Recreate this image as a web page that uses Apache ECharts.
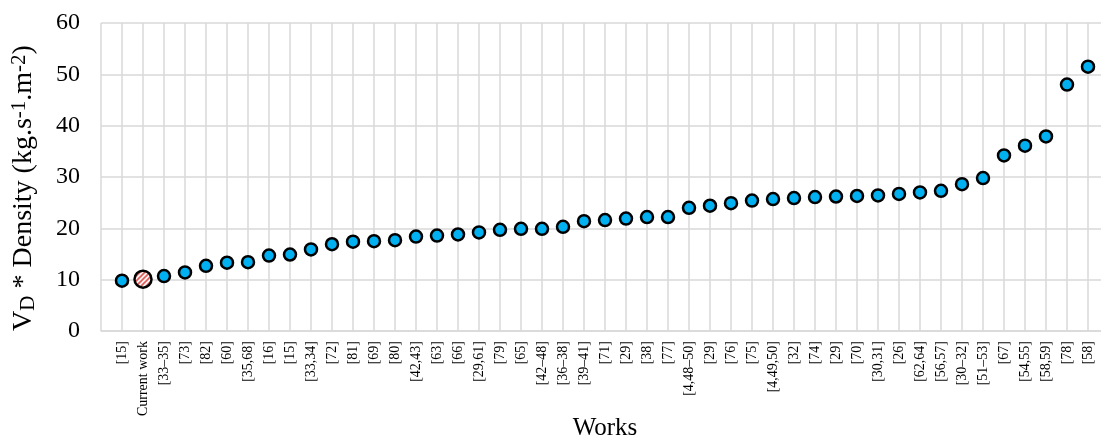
<!DOCTYPE html>
<html lang="en">
  <head>
    <meta charset="UTF-8" />
    <title>VD * Density</title>
    <script src="https://cdn.jsdelivr.net/npm/echarts@6/dist/echarts.min.js"></script>
    <style>
      html, body { margin: 0; padding: 0; background: #fff; }
    </style>
  </head>
  <body>
    <div id="main" style="width: 1101px; height: 442px"></div>

    <script>
      // 文献编号（横轴）
      const works = [
        '[15]', 'Current work', '[33–35]', '[73]', '[82]', '[60]', '[35,68]', '[16]', '[15]', '[33,34]',
        '[72]', '[81]', '[69]', '[80]', '[42,43]', '[63]', '[66]', '[29,61]', '[79]', '[65]',
        '[42–48]', '[36–38]', '[39–41]', '[71]', '[29]', '[38]', '[77]', '[4,48–50]', '[29]', '[76]',
        '[75]', '[4,49,50]', '[32]', '[74]', '[29]', '[70]', '[30,31]', '[26]', '[62,64]', '[56,57]',
        '[30–32]', '[51–53]', '[67]', '[54,55]', '[58,59]', '[78]', '[58]',
      ]
      // VD * Density 数值
      const values = [
        9.8, 10.1, 10.7, 11.4, 12.7, 13.3, 13.4, 14.7, 14.9, 15.9,
        16.9, 17.4, 17.5, 17.7, 18.4, 18.6, 18.8, 19.2, 19.7, 19.9,
        19.9, 20.3, 21.4, 21.6, 21.9, 22.2, 22.2, 24.0, 24.4, 24.9,
        25.4, 25.7, 25.9, 26.1, 26.2, 26.3, 26.4, 26.7, 27.0, 27.3,
        28.6, 29.8, 34.2, 36.1, 37.9, 48.0, 51.5,
      ]
      const yTicks = { min: 0, max: 60, interval: 10 }
      const highlight = 'Current work'
      const highlightSize = 17

      // 斜线填充图案
      const pat = document.createElement('canvas')
      pat.width = 5
      pat.height = 5
      const pc = pat.getContext('2d')
      pc.fillStyle = '#fff'
      pc.fillRect(0, 0, 5, 5)
      pc.strokeStyle = '#e0504c'
      pc.lineWidth = 1.6
      pc.beginPath()
      pc.moveTo(0, 5); pc.lineTo(5, 0)
      pc.moveTo(-1, 1); pc.lineTo(1, -1)
      pc.moveTo(4, 6); pc.lineTo(6, 4)
      pc.stroke()

      const font = 'Liberation Serif, Times New Roman, serif'
      const axisData = [''].concat(works, [''])
      const seriesData = [null].concat(
        values.map((v, i) =>
          works[i] === highlight
            ? {
                value: v,
                symbolSize: highlightSize,
                // 符号按尺寸缩放，图案要反向缩放
                itemStyle: {
                  color: { image: pat, repeat: 'repeat', scaleX: 2 / highlightSize, scaleY: 2 / highlightSize },
                },
              }
            : v
        ),
        [null]
      )

      const myChart = echarts.init(document.getElementById('main'))
      const options = {
        animation: false,
        grid: { left: 101, right: -8, top: 23, bottom: 111, outerBoundsMode: 'none', containLabel: false },
        xAxis: {
          type: 'category',
          data: axisData,
          boundaryGap: false,
          name: 'Works',
          nameLocation: 'middle',
          nameGap: 85,
          nameMoveOverlap: false,
          nameTextStyle: { fontFamily: font, fontSize: 25, color: '#000' },
          axisLine: { lineStyle: { color: '#d9d9d9', width: 1.5 } },
          axisTick: { show: false },
          axisLabel: { interval: 0, rotate: 90, margin: 10, fontFamily: font, fontSize: 14, color: '#000' },
          splitLine: { show: true, interval: 0, lineStyle: { color: '#d9d9d9', width: 1.5 } },
        },
        yAxis: {
          type: 'value',
          min: yTicks.min,
          max: yTicks.max,
          interval: yTicks.interval,
          name: '{n|V}{sub|D}{n| * Density (kg.s}{sup|-1}{n|.m}{sup|-2}{n|)}',
          nameLocation: 'middle',
          nameGap: 62,
          nameMoveOverlap: false,
          nameTextStyle: {
            fontFamily: font,
            fontSize: 28,
            color: '#000',
            padding: [0, 22, 0, 0],
            rich: {
              n: { fontFamily: font, fontSize: 28, color: '#000', lineHeight: 30 },
              sub: { fontFamily: font, fontSize: 21, color: '#000', verticalAlign: 'bottom', lineHeight: 30 },
              sup: { fontFamily: font, fontSize: 21, color: '#000', verticalAlign: 'top', lineHeight: 30 },
            },
          },
          axisLine: { show: false },
          axisTick: { show: false },
          axisLabel: { margin: 21, fontFamily: font, fontSize: 24, color: '#000' },
          splitLine: { lineStyle: { color: '#d9d9d9', width: 1.5 } },
        },
        series: [
          {
            type: 'scatter',
            data: seriesData,
            symbol: 'circle',
            symbolSize: 12,
            itemStyle: { color: '#00b0f0', borderColor: '#000', borderWidth: 2.5, opacity: 1 },
          },
        ],
      }
      myChart.setOption(options)
    </script>
  </body>
</html>
